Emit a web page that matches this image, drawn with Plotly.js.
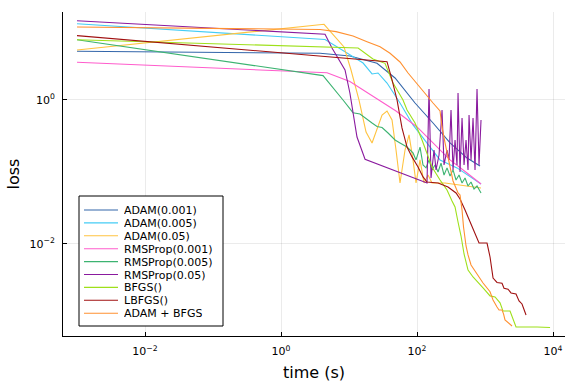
<!DOCTYPE html>
<html><head><meta charset="utf-8">
<script src="https://cdn.plot.ly/plotly-3.0.1.min.js"></script>
<style>html,body{margin:0;padding:0;background:#fff}#chart{width:576px;height:384px}</style>
</head><body><div id="chart"></div>
<script>
// ---- data (time in seconds, loss) ----
const seriesNames = ['ADAM(0.001)', 'ADAM(0.005)', 'ADAM(0.05)', 'RMSProp(0.001)', 'RMSProp(0.005)', 'RMSProp(0.05)', 'BFGS()', 'LBFGS()', 'ADAM + BFGS'];
const seriesColors = ['#3366aa', '#44ccf5', '#ffc340', '#ff5ccc', '#3cb371', '#8a1a9e', '#9ee01a', '#a01010', '#ff9030'];

const adam001_t = [0.001, 3.75, 10.3, 25.8, 47.5, 93.5, 172, 306, 544, 844];
const adam001_loss = [4.75, 4.45, 4.08, 3.23, 2.02, 0.908, 0.479, 0.253, 0.156, 0.121];

const adam005_t = [0.001, 4.44, 9.35, 16.1, 21.8, 26.7, 36.2, 56.2, 87.3, 122.5, 171.9, 217.9, 387.5, 873];
const adam005_loss = [11.47, 6.92, 4.49, 3.26, 2.30, 2.37, 1.72, 0.908, 0.45, 0.297, 0.202, 0.147, 0.114, 0.0681];

const adam05_t = [0.001, 4.29, 8.44, 10.7, 14.0, 16.1, 17.8, 21.8, 25.8, 30.6, 36.2, 42.9, 49.1, 56.2, 66.6, 76.3, 87.3, 96.7, 110.7, 126.8, 145.2, 166.2, 258.1, 873];
const adam05_loss = [4.95, 11.25, 5.45, 2.61, 1.0, 0.527, 0.359, 0.253, 0.383, 0.619, 0.703, 0.527, 0.202, 0.0704, 0.202, 0.327, 0.147, 0.0704, 0.147, 0.0704, 0.0908, 0.0704, 0.0704, 0.0599];

const rms001_t = [0.001, 3.75, 4.75, 10.3, 22.5, 49.1, 100, 171.9, 305.7, 543.9, 873];
const rms001_loss = [3.34, 2.45, 2.39, 1.80, 1.11, 0.703, 0.422, 0.253, 0.147, 0.0969, 0.0681];

const rms005_t = [0.001, 4.15, 8.16, 11.45, 14.5, 17.2, 21.8, 25.8, 30.6, 37.5, 47.5, 56.2, 71.3, 87.3, 96.7, 110.7, 122.5, 135.6, 150.1, 166.2, 184, 203.7, 225.4, 249.5, 276.1, 305.7, 338.4, 374.6, 414.7, 459.1, 508.2, 562.3, 622.5, 688.7, 762.5, 873];
const rms005_loss = [6.88, 2.18, 1.0, 0.666, 0.639, 0.562, 0.479, 0.428, 0.415, 0.348, 0.278, 0.253, 0.222, 0.184, 0.147, 0.222, 0.125, 0.114, 0.147, 0.107, 0.125, 0.1, 0.133, 0.0908, 0.114, 0.088, 0.107, 0.0774, 0.0908, 0.0704, 0.0825, 0.0639, 0.0726, 0.058, 0.0639, 0.0511];

const rms05_t = [0.001, 4.44, 5.62, 8.73, 10.3, 13.1, 17.2, 140.3, 150.1, 160.6, 177.8, 190.3, 210.7, 233.2, 249.5, 276.1, 295.5, 316.2, 338.4, 362.1, 387.5, 400.9, 429, 459.1, 491.3, 525.8, 562.3, 582, 622.5, 666.2, 712.5, 762.5, 816.1, 873];
const rms05_loss = [12.63, 8.18, 5.27, 2.61, 1.25, 0.306, 0.150, 0.0704, 1.42, 0.0825, 0.202, 0.107, 0.172, 0.726, 0.125, 0.202, 0.147, 0.726, 0.107, 0.278, 0.125, 1.25, 0.1, 0.562, 0.125, 0.278, 0.107, 0.619, 0.147, 0.562, 0.107, 1.42, 0.125, 0.527];

const bfgs_t = [0.001, 13.6, 22.5, 33.8, 44.4, 62.2, 71.3, 93.5, 118.5, 140.3, 166.2, 217.9, 276.1, 327.1, 362.1, 400.9, 443.8, 491.3, 562.3, 666.2, 788.8, 935, 1185, 1403, 1662, 1839, 2332, 2495, 2856, 5820, 9036];
const bfgs_loss = [6.88, 5.27, 3.71, 3.23, 1.72, 1.0, 0.726, 0.479, 0.278, 0.184, 0.117, 0.0774, 0.0562, 0.0396, 0.0327, 0.0202, 0.0129, 0.00726, 0.00435, 0.00348, 0.00287, 0.00245, 0.0019, 0.00184, 0.00152, 0.00117, 0.00117, 0.001, 0.000704, 0.000704, 0.000693];

const lbfgs_t = [0.001, 3.75, 36.2, 42.9, 50.8, 60.1, 71.3, 84.4, 103.5, 122.5, 140.3, 203.7, 285.6, 374.6, 429, 508.2, 601.8, 712.5, 816.1, 1070, 1185, 1312, 1500, 1778, 1902, 2179, 2411, 2856, 3162, 3499, 4009];
const lbfgs_loss = [7.82, 4.05, 3.40, 1.90, 1.0, 0.409, 0.222, 0.162, 0.117, 0.0853, 0.0726, 0.0704, 0.0619, 0.0511, 0.0422, 0.0297, 0.0202, 0.0142, 0.0103, 0.0103, 0.0066, 0.00337, 0.00292, 0.00285, 0.00243, 0.00235, 0.00209, 0.00202, 0.00162, 0.00147, 0.00103];

const adambfgs_t = [0.001, 3.75, 6.44, 11.45, 18.4, 28.6, 40.1, 56.2, 73.8, 93.5, 131.2, 171.9, 217.9, 233.2, 258.1, 285.6, 338.4, 400.9, 429, 459.1, 482.9, 525.8, 562.3, 622.5, 712.5, 788.8, 935, 1185, 1312, 1500, 1607, 1778, 1871, 1967, 2179, 2495];
const adambfgs_loss = [10.32, 9.53, 8.89, 7.74, 6.45, 5.50, 4.45, 3.37, 2.37, 1.80, 1.25, 0.908, 0.703, 0.422, 0.253, 0.156, 0.075, 0.0511, 0.0479, 0.0297, 0.0172, 0.00938, 0.00704, 0.00511, 0.00422, 0.00371, 0.00287, 0.00217, 0.00167, 0.00133, 0.00121, 0.00121, 0.00107, 0.00088, 0.0008, 0.000726];

const xTickVals = [1e-2, 1, 1e2, 1e4];
const xTickText = ['10<sup>−2</sup>', '10<sup>0</sup>', '10<sup>2</sup>', '10<sup>4</sup>'];
const yTickVals = [1e-2, 1];
const yTickText = ['10<sup>−2</sup>', '10<sup>0</sup>'];

const xs = [adam001_t, adam005_t, adam05_t, rms001_t, rms005_t, rms05_t, bfgs_t, lbfgs_t, adambfgs_t];
const ys = [adam001_loss, adam005_loss, adam05_loss, rms001_loss, rms005_loss, rms05_loss, bfgs_loss, lbfgs_loss, adambfgs_loss];

const traces = seriesNames.map((n, i) => ({
  x: xs[i], y: ys[i], name: n, type: 'scatter', mode: 'lines',
  line: {color: seriesColors[i], width: 1.1}, showlegend: false
}));

// custom compact legend (GR style)
const W = 576, H = 384, mL = 63, mR = 11, mT = 12, mB = 48;
const pw = W - mL - mR, ph = H - mT - mB;
const px = v => (v - mL) / pw;
const py = v => (H - mB - v) / ph;
const shapes = [{type: 'rect', xref: 'paper', yref: 'paper', x0: px(79), x1: px(223), y0: py(326), y1: py(196),
  line: {color: '#000', width: 1}, fillcolor: '#fff', layer: 'above'}];
const annotations = [];
seriesNames.forEach((n, i) => {
  const yc = 210 + 12.9 * i;
  shapes.push({type: 'line', xref: 'paper', yref: 'paper', x0: px(84), x1: px(118), y0: py(yc), y1: py(yc),
    line: {color: seriesColors[i], width: 1.1}, layer: 'above'});
  annotations.push({xref: 'paper', yref: 'paper', x: px(123), y: py(yc), xanchor: 'left', yanchor: 'middle',
    text: n, showarrow: false, height: 12, borderpad: 0,
    font: {family: 'DejaVu Sans', size: 11, color: '#000'}});
});

const layout = {
  width: W, height: H,
  margin: {l: mL, r: mR, t: mT, b: mB},
  paper_bgcolor: '#fff', plot_bgcolor: '#fff',
  font: {family: 'DejaVu Sans', color: '#000'},
  showlegend: false,
  xaxis: {type: 'log', range: [-3.206, 4.176], tickvals: xTickVals, ticktext: xTickText,
    ticks: 'inside', ticklen: 4, tickcolor: '#000', showline: true, linecolor: '#000', linewidth: 1,
    showgrid: true, gridcolor: 'rgba(0,0,0,0.08)', gridwidth: 1, zeroline: false, mirror: false,
    tickfont: {size: 11, family: 'DejaVu Sans'}, ticklabelstandoff: 5,
    title: {text: 'time (s)', font: {size: 16, family: 'DejaVu Sans'}, standoff: 9}, automargin: false},
  yaxis: {type: 'log', range: [-3.278, 1.222], tickvals: yTickVals, ticktext: yTickText,
    ticks: 'inside', ticklen: 4, tickcolor: '#000', showline: true, linecolor: '#000', linewidth: 1,
    showgrid: true, gridcolor: 'rgba(0,0,0,0.08)', gridwidth: 1, zeroline: false, mirror: false,
    tickfont: {size: 11, family: 'DejaVu Sans'}, ticklabelstandoff: 5,
    title: {text: 'loss', font: {size: 16, family: 'DejaVu Sans'}, standoff: 5}, automargin: false},
  shapes: shapes, annotations: annotations
};
Plotly.newPlot('chart', traces, layout, {displayModeBar: false, staticPlot: true});
</script></body></html>
